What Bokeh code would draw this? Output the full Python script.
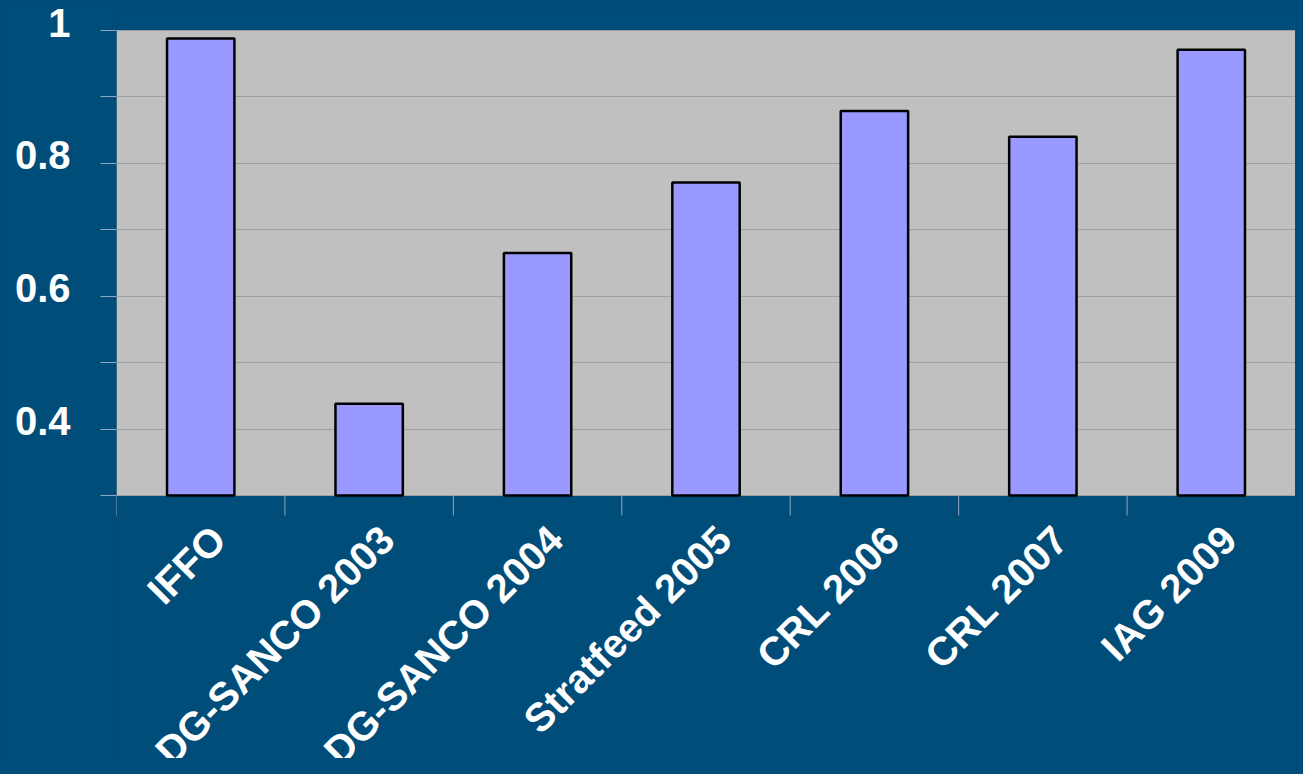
import math
from bokeh.plotting import figure
from bokeh.models import (ColumnDataSource, FixedTicker, CustomJSTickFormatter, Range1d,
                          BoxAnnotation, LinearAxis)
from bokeh.embed import file_html
from bokeh.resources import INLINE

categories = ["IFFO", "DG-SANCO 2003", "DG-SANCO 2004", "Stratfeed 2005",
              "CRL 2006", "CRL 2007", "IAG 2009"]
values = [0.988, 0.438, 0.665, 0.771, 0.879, 0.840, 0.971]
y_major_ticks = [0.4, 0.6, 0.8, 1.0]
y_minor_ticks = [0.3, 0.5, 0.7, 0.9]
y_start, y_end = 0.3, 1.0

BG = "#014D79"
PLOT_BG = "#C0C0C0"
BAR = "#9999FF"
GRID = "#A0A0A0"
TICK = "#8FA8C0"
FONT = "Liberation Sans"

# layout (pixels)
W, H = 1295, 758
LEFT = 116
PLOT_TOP = 30                     # pixel row of the value 1.0
TOP = 10                          # frame starts a little above the plot area
PLOT_H = 465                      # height of the grey plot area
FRAME_H = H - TOP                 # frame runs to the bottom so labels can sit below the plot area
px_per_unit = PLOT_H / (y_end - y_start)
y_view_end = y_end + (PLOT_TOP - TOP) / px_per_unit
y_view_start = y_view_end - FRAME_H / px_per_unit
label_lift = 8 / px_per_unit      # tick labels sit slightly above their ticks

n = len(categories)
xs = [i + 0.5 for i in range(n)]
boundaries = list(range(n + 1))

src = ColumnDataSource(dict(x=xs, top=values, cat=categories,
                            base=[y_start] * n))

p = figure(width=W, height=H, output_backend="svg", toolbar_location=None,
           x_range=Range1d(0, n), y_range=Range1d(y_view_start, y_view_end),
           x_axis_location=None,
           min_border_left=LEFT, min_border_top=TOP, min_border_bottom=0,
           min_border_right=0)
p.background_fill_color = BG
p.border_fill_color = BG
p.outline_line_color = None
p.extra_y_ranges = {"labels": Range1d(y_view_start - label_lift, y_view_end - label_lift)}

# grey plot area
p.add_layout(BoxAnnotation(bottom=y_start, top=y_end, fill_color=PLOT_BG,
                           fill_alpha=1.0, line_color=None, level="image"))

p.vbar(x="x", top="top", bottom="base", width=0.4, source=src,
       fill_color=BAR, line_color="black", line_width=2.5)

# y axis: tick marks
ya = p.yaxis[0]
ya.ticker = FixedTicker(ticks=y_major_ticks, minor_ticks=y_minor_ticks)
ya.formatter = CustomJSTickFormatter(code="return '';")
ya.axis_line_color = None
ya.major_tick_line_color = TICK
ya.minor_tick_line_color = TICK
ya.major_tick_out = 16
ya.major_tick_in = 0
ya.minor_tick_out = 16
ya.minor_tick_in = 0
ya.major_label_standoff = 0

# y axis: tick labels
yl = LinearAxis(y_range_name="labels", ticker=FixedTicker(ticks=y_major_ticks),
                formatter=CustomJSTickFormatter(code="return tick.toFixed(1).replace(/\\.0$/, '');"))
yl.axis_line_color = None
yl.major_tick_line_color = None
yl.minor_tick_line_color = None
yl.major_tick_out = 0
yl.major_tick_in = 0
yl.minor_tick_out = 0
yl.minor_tick_in = 0
yl.major_label_standoff = 30
yl.major_label_text_color = "white"
yl.major_label_text_font = FONT
yl.major_label_text_font_style = "bold"
yl.major_label_text_font_size = "40px"
p.add_layout(yl, "left")

p.ygrid.grid_line_color = GRID
p.ygrid.minor_grid_line_color = GRID
p.xgrid.grid_line_color = None

# category boundary tick marks below the plot area
tick_len = 20 / px_per_unit
p.segment(x0=boundaries, y0=[y_start] * (n + 1), x1=boundaries,
          y1=[y_start - tick_len] * (n + 1), line_color=TICK, line_width=1)

# rotated category labels
label_y = y_start - 37 / px_per_unit
p.text(x=xs, y=[label_y] * n, text=categories, angle=math.pi / 4,
       x_offset=18, text_align="right", text_baseline="middle",
       text_color="white", text_font={"value": FONT}, text_font_style="bold",
       text_font_size="40px")

html = file_html(p, INLINE)
style = "<style>html, body { background: %s; }</style>" % BG
html = html.replace("</head>", style + "</head>", 1)
open("out.html", "w").write(html)
